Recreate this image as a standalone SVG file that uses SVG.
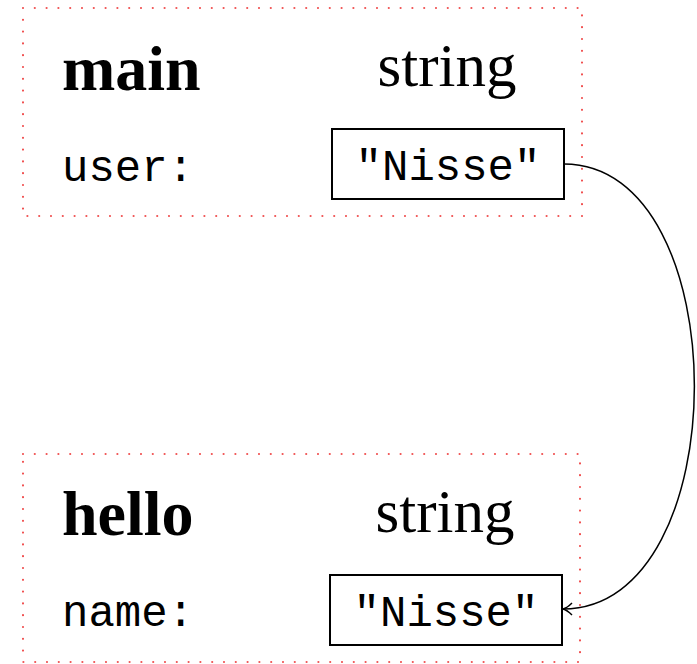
<svg xmlns="http://www.w3.org/2000/svg" width="697" height="664" viewBox="0 0 697 664">
<style>
.frame{fill:none;stroke:#f05050;stroke-width:2.2;stroke-dasharray:0 11.8;stroke-linecap:round}
.title{font-family:"Liberation Serif",serif;font-weight:bold;font-size:64px;fill:#000}
.type{font-family:"Liberation Serif",serif;font-size:61px;fill:#000}
.mono{font-family:"Liberation Mono",monospace;font-size:44px;fill:#000}
.box{fill:#fff;stroke:#000;stroke-width:2}
.conn{fill:none;stroke:#000;stroke-width:1.5}
</style>
<defs>
<marker id="arr" markerWidth="14" markerHeight="14" refX="11" refY="7" orient="auto" markerUnits="userSpaceOnUse">
<path d="M2,1 Q7,6 11,7 Q7,8 2,13" fill="none" stroke="#000" stroke-width="1.5"/>
</marker>
</defs>
<rect width="697" height="664" fill="#fff"/>
<g id="main">
<rect class="frame" x="23" y="8" width="559" height="208"/>
<text class="title" x="62" y="90">main</text>
<text class="type" x="447" y="86" text-anchor="middle">string</text>
<text class="mono" x="62" y="181">user:</text>
<g id="main-user">
<rect class="box" x="332" y="129" width="232" height="70"/>
<text class="mono" x="448" y="180" text-anchor="middle">"Nisse"</text>
</g>
</g>
<g id="hello">
<rect class="frame" x="23" y="454" width="557" height="208"/>
<text class="title" x="62" y="535">hello</text>
<text class="type" x="445" y="532" text-anchor="middle">string</text>
<text class="mono" x="62" y="626">name:</text>
<g id="hello-name">
<rect class="box" x="330" y="575" width="232" height="70"/>
<text class="mono" x="446" y="626" text-anchor="middle">"Nisse"</text>
</g>
</g>
<g id="connectors">
<path class="conn" d="M564,164 C738,164 738,609 563,609" marker-end="url(#arr)"/>
</g>
</svg>
